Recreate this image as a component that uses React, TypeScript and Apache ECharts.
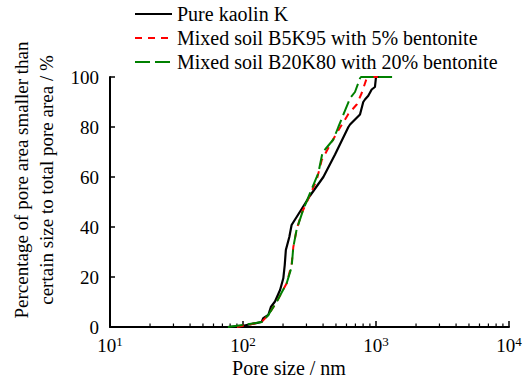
import React, { useEffect, useRef } from 'react';
import * as echarts from 'echarts';

// Pore size (nm) / cumulative percentage (%) pairs
const kaolinK: [number, number][] = [
  [77, 0], [100, 0.5], [138, 2], [142, 3.5], [155, 4.8], [162, 8], [174, 10.2], [190, 14.8],
  [201, 19.5], [206, 24.8], [210, 30.8], [223, 36], [232, 40.8], [319, 52.5], [402, 60],
  [492, 69], [620, 80], [638, 81], [758, 85], [802, 90], [826, 91], [875, 92.5], [928, 95],
  [982, 96], [1000, 100], [1320, 100],
];
const b5k95: [number, number][] = [
  [90, 0], [100, 0.5], [138, 2], [155, 4.8], [179, 10], [213, 17.5], [232, 25], [239, 32],
  [253, 39], [276, 45.5], [319, 52.8], [358, 58.8], [391, 66.8], [451, 72.8], [506, 77.5],
  [620, 85.2], [716, 89], [780, 93.5], [851, 99.5], [875, 100], [1320, 100],
];
const b20k80: [number, number][] = [
  [77, 0], [100, 0.8], [138, 2], [155, 4.8], [179, 10], [213, 17.5], [232, 24], [239, 32],
  [253, 39], [284, 47], [319, 53.5], [368, 61.5], [397, 70], [414, 71], [478, 75], [521, 80],
  [638, 91.5], [695, 94], [758, 99.5], [771, 100], [1320, 100],
];

const seriesNames = [
  'Pure kaolin K',
  'Mixed soil B5K95 with 5% bentonite',
  'Mixed soil B20K80 with 20% bentonite',
];
const minorTickValues = [
  20, 30, 40, 50, 60, 70, 80, 90,
  200, 300, 400, 500, 600, 700, 800, 900,
  2000, 3000, 4000, 5000, 6000, 7000, 8000, 9000,
];
const xTitle = 'Pore size / nm';
const yTitle = 'Percentage of pore area smaller than\ncertain size to total pore area / %';

const FONT = 'Liberation Serif, Times New Roman, serif';

export default function App() {
  const ref = useRef<HTMLDivElement>(null);
  useEffect(() => {
    if (!ref.current) return;
    const chart = echarts.init(ref.current, null, { renderer: 'svg' });
    chart.setOption({
      animation: false,
      backgroundColor: '#fff',
      textStyle: { fontFamily: FONT, color: '#000' },
      grid: { left: 110, right: 18, top: 77, bottom: 51, containLabel: false, outerBoundsMode: 'none' },
      legend: {
        orient: 'vertical',
        left: 134,
        top: 4,
        padding: 0,
        itemGap: 4,
        itemWidth: 37,
        itemHeight: 14,
        itemStyle: { opacity: 0 },
        textStyle: { fontFamily: FONT, fontSize: 20, color: '#000', lineHeight: 20 },
        data: seriesNames,
      },
      xAxis: {
        type: 'log',
        logBase: 10,
        min: 10,
        max: 10000,
        splitLine: { show: false },
        axisLine: { show: true, lineStyle: { color: '#000', width: 2 } },
        axisTick: { show: true, inside: true, length: 6, lineStyle: { color: '#000', width: 1.5 } },
        axisLabel: {
          show: true,
          margin: 8,
          formatter: (v: number) => `{b|10}{sup|${Math.round(Math.log10(v))}}`,
          rich: {
            b: { fontFamily: FONT, fontSize: 19, color: '#000', lineHeight: 20 },
            sup: { fontFamily: FONT, fontSize: 13, color: '#000', lineHeight: 13, verticalAlign: 'top' },
          },
        },
      },
      yAxis: {
        type: 'value',
        min: 0,
        max: 100,
        interval: 20,
        splitLine: { show: false },
        axisLine: { show: true, lineStyle: { color: '#000', width: 2 } },
        axisTick: { show: true, inside: true, length: 5, lineStyle: { color: '#000', width: 1.5 } },
        axisLabel: { margin: 11, fontFamily: FONT, fontSize: 19, color: '#000' },
      },
      graphic: [
        {
          type: 'text',
          x: 34,
          y: 180,
          rotation: Math.PI / 2,
          style: {
            text: yTitle,
            fontFamily: FONT,
            fontSize: 19,
            lineHeight: 25,
            fill: '#000',
            align: 'center',
            verticalAlign: 'middle',
          },
        },
        {
          type: 'text',
          x: 289,
          y: 368,
          style: {
            text: xTitle,
            fontFamily: FONT,
            fontSize: 20,
            fill: '#000',
            align: 'center',
            verticalAlign: 'middle',
          },
        },
      ],
      series: [
        {
          name: 'minorTicks',
          type: 'custom',
          silent: true,
          clip: false,
          z: 1,
          data: minorTickValues.map((v) => [v, 0]),
          renderItem: (params: any, api: any) => {
            const p = api.coord([api.value(0), 0]);
            return {
              type: 'line',
              shape: { x1: p[0], y1: p[1], x2: p[0], y2: p[1] - 3.5 },
              style: { stroke: '#000', lineWidth: 1.2 },
            };
          },
        },
        {
          name: seriesNames[0],
          type: 'line',
          data: kaolinK,
          showSymbol: false,
          symbol: 'none',
          z: 3,
          lineStyle: { color: '#000', width: 2.2, type: 'solid' },
          itemStyle: { color: '#000' },
        },
        {
          name: seriesNames[1],
          type: 'line',
          data: b5k95,
          showSymbol: false,
          symbol: 'none',
          z: 4,
          lineStyle: { color: '#ff0000', width: 2, type: [7, 6] },
          itemStyle: { color: '#ff0000' },
        },
        {
          name: seriesNames[2],
          type: 'line',
          data: b20k80,
          showSymbol: false,
          symbol: 'none',
          z: 5,
          lineStyle: { color: '#008000', width: 2, type: [15, 5] },
          itemStyle: { color: '#008000' },
        },
      ],
    });
    return () => chart.dispose();
  }, []);
  return <div ref={ref} style={{ width: 527, height: 378, position: 'absolute', left: 0, top: 0 }} />;
}
